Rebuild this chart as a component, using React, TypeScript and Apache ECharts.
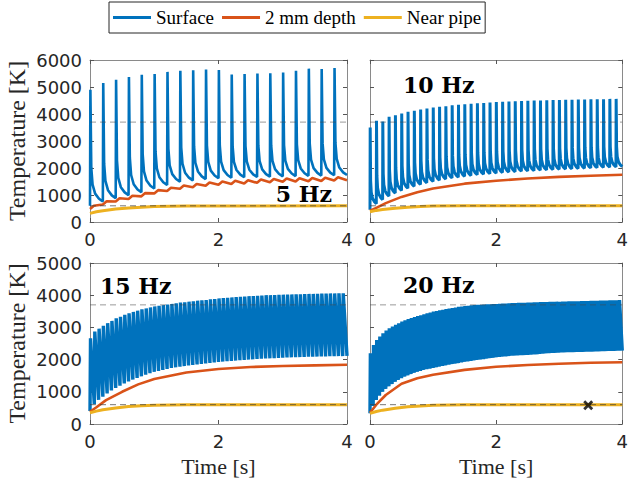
import React, { useEffect, useRef } from "react";
import * as echarts from "echarts";

// ---------- data ----------
const legendNames = ["Surface", "2 mm depth", "Near pipe"];
const freqLabels = ["5 Hz", "10 Hz", "15 Hz", "20 Hz"];
const xTicksInterval = 2;
const yMaxTop = 6000;
const yMaxBottom = 5000;
const refHigh = 3700;
const refLow = 600;
const markerPoint = [3.46, 585];

// Surface: pulse peaks and troughs (trough k = value just before pulse k)
const peaks5 = [4900, 5150, 5270, 5370, 5450, 5480, 5560, 5600, 5620, 5650, 5630, 5460, 5480, 5500, 5510, 5540, 5600, 5680, 5670, 5700];
const troughs5 = [600, 760, 880, 990, 1100, 1240, 1370, 1490, 1540, 1590, 1620, 1640, 1660, 1670, 1680, 1690, 1700, 1710, 1720, 1730, 1740];

const peaks10 = [3500, 3750, 3720, 3900, 3950, 4020, 4080, 4120, 4170, 4200, 4240, 4270, 4290, 4320, 4340, 4360, 4380, 4400, 4410, 4430, 4440, 4450, 4460, 4470, 4480, 4490, 4500, 4500, 4510, 4520, 4520, 4530, 4530, 4540, 4540, 4550, 4550, 4550, 4560, 4560];
const troughs10 = [450, 680, 830, 960, 1070, 1170, 1250, 1320, 1390, 1450, 1500, 1550, 1590, 1630, 1660, 1690, 1720, 1750, 1770, 1790, 1810, 1830, 1850, 1860, 1880, 1890, 1900, 1920, 1930, 1940, 1950, 1960, 1970, 1980, 1990, 2000, 2010, 2020, 2030, 2040, 2050];

const peaks15 = [2660, 2870, 2960, 3050, 3130, 3200, 3280, 3330, 3390, 3440, 3480, 3520, 3560, 3590, 3620, 3650, 3670, 3690, 3710, 3730, 3750, 3770, 3780, 3800, 3810, 3830, 3840, 3850, 3870, 3880, 3900, 3910, 3920, 3930, 3940, 3950, 3960, 3970, 3975, 3980, 3990, 4000, 4000, 4005, 4010, 4015, 4020, 4025, 4030, 4030, 4035, 4040, 4040, 4045, 4050, 4050, 4055, 4055, 4060, 4060];
const troughs15 = [400, 620, 750, 850, 950, 1040, 1120, 1190, 1260, 1320, 1380, 1430, 1480, 1530, 1580, 1620, 1650, 1680, 1710, 1740, 1760, 1780, 1800, 1820, 1835, 1850, 1865, 1880, 1895, 1910, 1925, 1940, 1950, 1960, 1970, 1980, 1990, 2000, 2010, 2020, 2030, 2035, 2040, 2045, 2050, 2060, 2065, 2070, 2075, 2080, 2085, 2090, 2090, 2095, 2100, 2100, 2105, 2105, 2110, 2110, 2115];

const peaks20 = [2200, 2450, 2610, 2720, 2820, 2900, 2970, 3030, 3080, 3130, 3180, 3220, 3260, 3290, 3320, 3350, 3380, 3410, 3440, 3460, 3490, 3510, 3530, 3550, 3570, 3590, 3600, 3620, 3640, 3650, 3665, 3675, 3685, 3695, 3700, 3705, 3710, 3715, 3720, 3725, 3730, 3735, 3740, 3745, 3750, 3755, 3760, 3762, 3765, 3768, 3770, 3775, 3778, 3780, 3785, 3788, 3790, 3793, 3795, 3798, 3800, 3803, 3805, 3808, 3810, 3812, 3815, 3817, 3820, 3822, 3825, 3828, 3830, 3833, 3835, 3838, 3840, 3843, 3846, 3850];
const troughs20 = [330, 560, 745, 880, 1000, 1090, 1170, 1240, 1310, 1370, 1420, 1470, 1510, 1550, 1590, 1620, 1650, 1680, 1700, 1720, 1740, 1760, 1780, 1800, 1820, 1840, 1860, 1875, 1890, 1910, 1930, 1945, 1960, 1975, 1990, 2000, 2015, 2030, 2045, 2055, 2070, 2080, 2090, 2100, 2110, 2120, 2125, 2130, 2135, 2140, 2145, 2150, 2160, 2165, 2175, 2185, 2195, 2200, 2205, 2210, 2215, 2220, 2225, 2228, 2230, 2235, 2238, 2240, 2242, 2245, 2248, 2250, 2255, 2258, 2260, 2265, 2268, 2270, 2272, 2275, 2278];

// 2 mm depth
const depthMin5 = [480, 650, 760, 850, 950, 1060, 1150, 1230, 1290, 1340, 1380, 1410, 1430, 1450, 1470, 1490, 1500, 1510, 1520, 1540, 1550];
const depthMax5 = [600, 770, 880, 970, 1070, 1180, 1270, 1350, 1410, 1460, 1500, 1530, 1550, 1570, 1590, 1610, 1620, 1630, 1640, 1660];
const depthTimes = [0, 0.1, 0.25, 0.5, 0.75, 1, 1.5, 2, 2.5, 3, 3.5, 4];
const depth10 = [420, 520, 700, 930, 1100, 1240, 1420, 1530, 1610, 1670, 1715, 1750];
const depth15 = [380, 520, 740, 1000, 1230, 1400, 1600, 1710, 1770, 1800, 1820, 1840];
const depth20 = [350, 600, 900, 1250, 1420, 1530, 1680, 1780, 1830, 1870, 1900, 1920];

// Near pipe
const pipeTimes = [0, 0.1, 0.2, 0.4, 0.6, 0.8, 1, 1.5, 2, 4];
const pipe5 = [320, 380, 420, 480, 520, 550, 570, 590, 595, 600];
const pipe10 = [380, 430, 460, 510, 550, 575, 590, 600, 600, 600];
const pipe15 = [350, 400, 440, 500, 540, 565, 580, 595, 600, 600];
const pipe20 = [330, 390, 430, 490, 535, 560, 580, 595, 600, 600];

// pulse shape templates (fraction of period, fraction of height above next trough)
const spikeOffsets = [0.03, 0.1, 0.2, 0.4, 0.7];
const spikeLevels = [1, 0.3, 0.15, 0.07, 0.025];
const sawOffsets = [0.12];
const sawLevels = [1];

// ---------- helpers ----------
function pulses(period: number, peaks: number[], troughs: number[], offs: number[], lvls: number[]) {
  const pts: number[][] = [];
  for (let k = 0; k < peaks.length; k++) {
    const t0 = k * period;
    pts.push([t0, troughs[k]]);
    const base = troughs[k + 1];
    for (let j = 0; j < offs.length; j++) {
      pts.push([t0 + offs[j] * period, base + lvls[j] * (peaks[k] - base)]);
    }
  }
  pts.push([peaks.length * period, troughs[peaks.length]]);
  return pts;
}
function saw(period: number, mins: number[], maxs: number[]) {
  const pts: number[][] = [];
  for (let k = 0; k < maxs.length; k++) {
    pts.push([k * period, mins[k]]);
    pts.push([k * period + 0.06, maxs[k]]);
  }
  pts.push([maxs.length * period, mins[maxs.length]]);
  return pts;
}
function zip(ts: number[], vs: number[]) {
  return ts.map((t, i) => [t, vs[i]]);
}

const BLUE = "#0072BD";
const ORANGE = "#D95319";
const YELLOW = "#EDB120";
const AXIS = "#8a8a8a";
const TICKTXT = "#262626";

export default function App() {
  const ref = useRef<HTMLDivElement>(null);
  useEffect(() => {
    if (!ref.current) return;
    const chart = echarts.init(ref.current, undefined, { renderer: "svg" });

    const grids = [
      { left: 90, top: 60, width: 257, height: 162 },
      { left: 370, top: 60, width: 257, height: 162 },
      { left: 90, top: 263, width: 257, height: 161 },
      { left: 370, top: 263, width: 257, height: 161 },
    ];
    const surface = [
      pulses(0.2, peaks5, troughs5, spikeOffsets, spikeLevels),
      pulses(0.1, peaks10, troughs10, spikeOffsets, spikeLevels),
      pulses(1 / 15, peaks15, troughs15, sawOffsets, sawLevels),
      pulses(0.05, peaks20, troughs20, sawOffsets, sawLevels),
    ];
    const depth = [
      saw(0.2, depthMin5, depthMax5),
      zip(depthTimes, depth10),
      zip(depthTimes, depth15),
      zip(depthTimes, depth20),
    ];
    const pipe = [
      zip(pipeTimes, pipe5),
      zip(pipeTimes, pipe10),
      zip(pipeTimes, pipe15),
      zip(pipeTimes, pipe20),
    ];
    const blueWidth = [2.6, 3, 3.4, 3.4];

    const xAxes: any[] = [];
    const yAxes: any[] = [];
    const series: any[] = [];
    const tickStyle = { show: true, inside: true, length: 4, lineStyle: { color: "#555", width: 1 } };
    const lineStyleAx = { show: true, onZero: false, lineStyle: { color: AXIS, width: 1 } };
    const plain = (v: number) => String(v);

    grids.forEach((g, i) => {
      const ymax = i < 2 ? yMaxTop : yMaxBottom;
      const bottomRow = i >= 2;
      const leftCol = i % 2 === 0;
      xAxes.push({
        type: "value", gridIndex: i, position: "bottom", min: 0, max: 4, interval: xTicksInterval,
        axisLine: lineStyleAx, axisTick: tickStyle, splitLine: { show: false },
        axisLabel: { show: true, color: TICKTXT, fontFamily: "DejaVu Sans", fontSize: 18, margin: 8, formatter: plain },
        name: bottomRow ? "Time [s]" : "", nameLocation: "middle", nameGap: 31,
        nameTextStyle: { fontFamily: "Liberation Serif", fontSize: 22, color: TICKTXT },
      });
      xAxes.push({
        type: "value", gridIndex: i, position: "top", min: 0, max: 4, interval: xTicksInterval,
        axisLine: lineStyleAx, axisTick: tickStyle, splitLine: { show: false }, axisLabel: { show: false },
      });
      yAxes.push({
        type: "value", gridIndex: i, position: "left", min: 0, max: ymax, interval: 1000,
        axisLine: lineStyleAx, axisTick: tickStyle, splitLine: { show: false },
        axisLabel: { show: leftCol, color: TICKTXT, fontFamily: "DejaVu Sans", fontSize: 18, margin: 8, formatter: plain },
        name: leftCol ? "Temperature [K]" : "", nameLocation: "middle", nameGap: 61,
        nameTextStyle: { fontFamily: "Liberation Serif", fontSize: 24, color: TICKTXT },
      });
      yAxes.push({
        type: "value", gridIndex: i, position: "right", min: 0, max: ymax, interval: 1000,
        axisLine: lineStyleAx, axisTick: tickStyle, splitLine: { show: false }, axisLabel: { show: false },
      });

      const xi = 2 * i;
      const yi = 2 * i;
      const common = { xAxisIndex: xi, yAxisIndex: yi, type: "line", symbol: "none", showSymbol: false, clip: true, animation: false, silent: true };
      series.push({ ...common, name: legendNames[0], data: surface[i], z: 2, lineStyle: { color: BLUE, width: blueWidth[i] }, itemStyle: { color: BLUE } });
      series.push({ ...common, name: legendNames[1], data: depth[i], z: 3, lineStyle: { color: ORANGE, width: 2.6 }, itemStyle: { color: ORANGE } });
      series.push({ ...common, name: legendNames[2], data: pipe[i], z: 4, lineStyle: { color: YELLOW, width: 3 }, itemStyle: { color: YELLOW } });
      series.push({ ...common, name: "ref-high", data: [[0, refHigh], [4, refHigh]], z: 5, lineStyle: { color: "rgba(70,70,70,0.55)", width: 1, type: [6, 4] } });
      series.push({ ...common, name: "ref-low", data: [[0, refLow], [4, refLow]], z: 5, lineStyle: { color: "rgba(60,60,60,0.7)", width: 1, type: [6, 4] } });
      if (i === 3) {
        series.push({
          type: "scatter", name: "marker", xAxisIndex: xi, yAxisIndex: yi, z: 6, silent: true,
          data: [markerPoint], symbolSize: 10,
          symbol: "path://M0,2 L2,0 L5,3 L8,0 L10,2 L7,5 L10,8 L8,10 L5,7 L2,10 L0,8 L3,5 Z",
          itemStyle: { color: "#000" },
        });
      }
    });

    const hzStyle = { fontFamily: "DejaVu Serif", fontWeight: "bold", fontSize: 22, fill: "#000" };
    chart.setOption({
      animation: false,
      backgroundColor: "#fff",
      grid: grids,
      xAxis: xAxes,
      yAxis: yAxes,
      legend: {
        data: legendNames, left: 109, top: 2, icon: "rect", itemWidth: 38, itemHeight: 3, itemGap: 8,
        padding: [6, 4, 6, 4], borderColor: "#262626", borderWidth: 1, backgroundColor: "#fff",
        textStyle: { fontFamily: "Liberation Serif", fontSize: 19, color: "#000" },
        selectedMode: false,
      },
      series,
      graphic: [
        { type: "text", right: 631 - 332, top: 183, z: 10, style: { text: freqLabels[0], ...hzStyle } },
        { type: "text", left: 403, top: 74, z: 10, style: { text: freqLabels[1], ...hzStyle } },
        { type: "text", left: 100, top: 275, z: 10, style: { text: freqLabels[2], ...hzStyle } },
        { type: "text", left: 403, top: 274, z: 10, style: { text: freqLabels[3], ...hzStyle } },
      ],
    });
    return () => chart.dispose();
  }, []);
  return <div ref={ref} style={{ position: "fixed", left: 0, top: 0, width: 631, height: 485 }} />;
}
